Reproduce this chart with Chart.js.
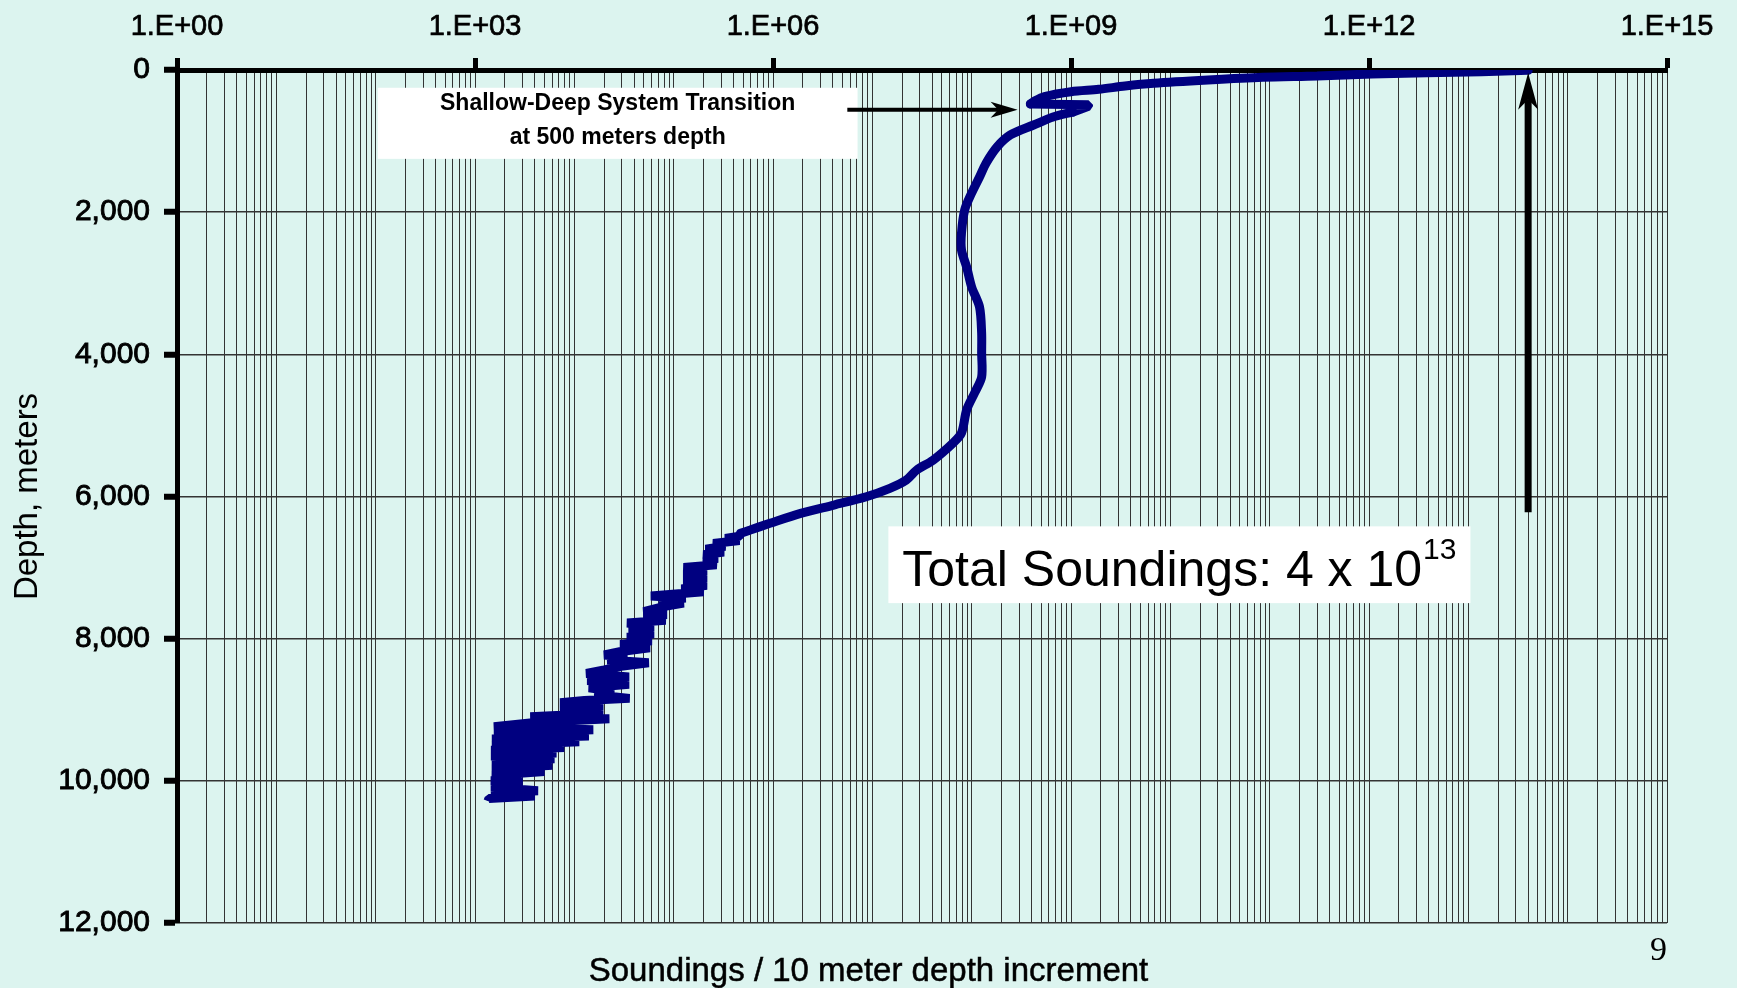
<!DOCTYPE html>
<html><head><meta charset="utf-8">
<script src="https://cdn.jsdelivr.net/npm/chart.js@4.4.1/dist/chart.umd.min.js"></script>
<style>html,body{margin:0;padding:0;background:#dcf4ef;overflow:hidden}canvas{display:block}</style>
</head><body>
<canvas id="c" width="1737" height="988"></canvas>
<script>
// ---- data ----
const depthM = [
  5, 24, 56, 84, 103, 141, 187, 225, 272, 305, 375, 445, 478, 490, 510, 591, 661, 774, 914,
  1083, 1308, 1505, 1730, 1970, 2293, 2532, 2771, 3053, 3334, 3700, 3981, 4319, 4544, 4783,
  5107, 5247, 5487, 5627, 5768, 5885, 6003, 6120, 6237, 6377, 6471, 6518,
  6560, 6590, 6620, 6660, 6700, 6740, 6780, 6820, 6870, 6920, 6960,
  7000, 7050, 7100, 7150, 7200, 7250, 7300, 7340,
  7400, 7430, 7470, 7500, 7550, 7620, 7660, 7700, 7740,
  7780, 7830, 7880, 7930, 7980, 8030, 8080, 8130, 8180, 8230, 8260, 8300, 8340, 8390,
  8440, 8490, 8540, 8590, 8640, 8690, 8740, 8790, 8840, 8870,
  8900, 8950, 9000, 9050, 9100, 9125, 9180, 9240, 9280, 9330, 9370,
  9410, 9450, 9500, 9530, 9570, 9610, 9650, 9690, 9740, 9780, 9830, 9870, 9920,
  9960, 10000, 10050, 10090, 10140, 10180, 10215, 10250, 10285
];
const soundings = [
  4.0e13, 1.35e13, 1.07e12, 3.0e11, 8.5e10, 2.4e10, 6.8e9, 3.5e9, 1.9e9, 1.0e9, 5.4e8, 4.2e8, 3.9e8, 1.5e9, 1.5e9, 1.05e9, 6.6e8, 4.2e8, 2.45e8,
  1.8e8, 1.4e8, 1.2e8, 1.0e8, 8.5e7, 7.9e7, 7.9e7, 8.9e7, 1.0e8, 1.2e8, 1.26e8, 1.26e8, 1.26e8, 1.07e8, 8.9e7,
  7.9e7, 6.5e7, 4.1e7, 2.8e7, 2.2e7, 1.5e7, 8.7e6, 4.1e6, 1.9e6, 9.3e5, 5.9e5, 4.7e5,
  4.6e5, 3.3e5, 4.6e5, 2.5e5, 3.3e5, 2.1e5, 3.2e5, 2.0e5, 2.75e5, 2.0e5, 2.7e5,
  1.26e5, 2.15e5, 1.26e5, 2.15e5, 1.26e5, 2.15e5, 1.2e5, 2.0e5,
  5.9e4, 1.32e5, 7.1e4, 1.26e5, 7.9e4, 5.0e4, 8.5e4, 5.0e4, 8.3e4,
  3.4e4, 6.3e4, 3.55e4, 6.3e4, 3.4e4, 6.0e4, 2.9e4, 5.75e4, 2.95e4, 2.0e4, 3.4e4, 2.15e4, 5.6e4, 2.95e4,
  2.0e4, 1.32e4, 3.55e4, 1.35e4, 3.55e4, 1.4e4, 2.5e4, 1.6e4, 3.6e4, 1.26e4,
  7.2e3, 1.95e4, 7.2e3, 1.95e4, 3.6e3, 2.25e4, 4.0e3, 1.55e3, 1.55e4, 1.55e3, 1.4e4,
  1.48e3, 1.12e4, 1.48e3, 7.9e3, 1.45e3, 6.6e3, 1.45e3, 6.3e3, 1.48e3, 6.0e3, 1.48e3, 5.0e3, 1.48e3,
  3.0e3, 1.45e3, 3.0e3, 1.45e3, 4.3e3, 1.45e3, 4.0e3, 1.38e3, 1.35e3
];
// index ranges of the profile: smooth shallow part, sharp transition kink, smooth deep part, noisy trench part
const segments = [
  {from: 0, to: 12, tension: 0.3, cap: 'round'},
  {from: 12, to: 15, tension: 0, cap: 'round'},
  {from: 15, to: 45, tension: 0.3, cap: 'round'},
  {from: 45, to: depthM.length - 1, tension: 0, cap: 'butt'}
];
const xTickValues = [1, 1e3, 1e6, 1e9, 1e12, 1e15];
const xTickLabels = ['1.E+00', '1.E+03', '1.E+06', '1.E+09', '1.E+12', '1.E+15'];
const yTickValues = [0, 2000, 4000, 6000, 8000, 10000, 12000];
const yTickLabels = ['0', '2,000', '4,000', '6,000', '8,000', '10,000', '12,000'];
const gridMantissas = [1, 2, 3, 4, 5, 6, 7, 8, 9];
const totalSoundings = 4e13;
const transitionDepth = 560;

const FONT = "'Liberation Sans', Arial, Helvetica, sans-serif";
const isLabeled = v => xTickValues.some(t => Math.abs(Math.log10(t) - Math.log10(v)) < 1e-6);

function arrow(ctx, x1, y1, x2, y2, w, headLen, headHalf) {
  const a = Math.atan2(y2 - y1, x2 - x1), ux = Math.cos(a), uy = Math.sin(a), nx = -uy, ny = ux;
  const notch = headLen * 0.72;
  ctx.strokeStyle = '#000'; ctx.fillStyle = '#000'; ctx.lineWidth = w; ctx.lineCap = 'butt';
  ctx.beginPath(); ctx.moveTo(x1, y1); ctx.lineTo(x2 - ux * notch, y2 - uy * notch); ctx.stroke();
  ctx.beginPath();
  ctx.moveTo(x2, y2);
  ctx.lineTo(x2 - ux * headLen + nx * headHalf, y2 - uy * headLen + ny * headHalf);
  ctx.lineTo(x2 - ux * notch, y2 - uy * notch);
  ctx.lineTo(x2 - ux * headLen - nx * headHalf, y2 - uy * headLen - ny * headHalf);
  ctx.closePath(); ctx.fill();
}

const annotations = {
  id: 'annotations',
  afterDatasetsDraw(chart) {
    const {ctx, chartArea} = chart;
    const xs = chart.scales.x, ys = chart.scales.y;
    const X = v => xs.getPixelForValue(v), Y = v => ys.getPixelForValue(v);
    ctx.save();
    // transition box
    const b1l = X(1.05e2), b1r = X(7.1e6), b1t = Y(250), b1b = Y(1250);
    ctx.fillStyle = '#fff'; ctx.fillRect(b1l, b1t, b1r - b1l, b1b - b1t);
    ctx.fillStyle = '#000'; ctx.font = 'bold 23px ' + FONT; ctx.textAlign = 'center'; ctx.textBaseline = 'middle';
    const c1 = (b1l + b1r) / 2, m1 = (b1t + b1b) / 2;
    ctx.fillText('Shallow-Deep System Transition', c1, m1 - 20);
    ctx.fillText('at 500 meters depth', c1, m1 + 14);
    // arrow to transition
    arrow(ctx, X(5.6e6), Y(transitionDepth), X(2.9e8), Y(transitionDepth), 4, 27, 8);
    // vertical arrow at total soundings
    arrow(ctx, X(totalSoundings), Y(6220), X(totalSoundings), Y(40), 7, 37, 10);
    // total box
    const b2l = X(1.45e7), b2r = X(1.05e13), b2t = Y(6420), b2b = Y(7500);
    ctx.fillStyle = '#fff'; ctx.fillRect(b2l, b2t, b2r - b2l, b2b - b2t);
    ctx.fillStyle = '#000'; ctx.textAlign = 'left'; ctx.textBaseline = 'alphabetic';
    const main = 'Total Soundings: 4 x 10', sup = '13';
    ctx.font = '50px ' + FONT; const wMain = ctx.measureText(main).width;
    ctx.font = '30px ' + FONT; const wSup = ctx.measureText(sup).width;
    const tx = (b2l + b2r) / 2 - (wMain + wSup + 1) / 2, base = b2t + 60;
    ctx.font = '50px ' + FONT; ctx.fillText(main, tx, base);
    ctx.font = '30px ' + FONT; ctx.fillText(sup, tx + wMain + 1, base - 27);
    // x-axis title (bottom, centred on page)
    ctx.font = '33px ' + FONT; ctx.textAlign = 'center';
    ctx.strokeStyle = '#000'; ctx.lineWidth = 0.5;
    ctx.fillText('Soundings / 10 meter depth increment', chart.width / 2, chartArea.bottom + 58);
    ctx.strokeText('Soundings / 10 meter depth increment', chart.width / 2, chartArea.bottom + 58);
    // page number
    ctx.font = "34px 'Liberation Serif', 'Times New Roman', serif"; ctx.textAlign = 'right';
    ctx.fillText('9', chartArea.right, chartArea.bottom + 37);
    ctx.restore();
  }
};

const points = soundings.map((s, i) => ({x: s, y: depthM[i]}));

new Chart(document.getElementById('c'), {
  type: 'scatter',
  data: {
    datasets: segments.map(seg => ({
      data: points.slice(seg.from, seg.to + 1),
      showLine: true,
      borderColor: '#000080',
      backgroundColor: '#000080',
      borderWidth: 9,
      borderJoinStyle: 'bevel',
      borderCapStyle: seg.cap,
      pointRadius: 0,
      tension: seg.tension,
      clip: {left: 6, top: 0, right: 6, bottom: 6}
    }))
  },
  options: {
    responsive: false,
    animation: false,
    devicePixelRatio: 1,
    layout: {padding: {left: 0, right: 70, top: 0, bottom: 65}},
    plugins: {legend: {display: false}, tooltip: {enabled: false}, title: {display: false}},
    scales: {
      x: {
        type: 'logarithmic', position: 'top', min: 1, max: 1e15,
        afterBuildTicks: s => {
          const t = [];
          for (let e = 0; e < 15; e++) for (const m of gridMantissas) t.push({value: m * Math.pow(10, e)});
          t.push({value: 1e15});
          s.ticks = t;
        },
        afterFit: s => { s.height = 70; },
        ticks: {
          autoSkip: false, maxRotation: 0, minRotation: 0, padding: 14,
          color: '#000', font: {family: FONT, size: 29},
          textStrokeColor: '#000', textStrokeWidth: 0.7,
          callback: v => { const i = xTickValues.findIndex(t => Math.abs(Math.log10(t) - Math.log10(v)) < 1e-6); return i >= 0 ? xTickLabels[i] : ''; }
        },
        grid: {
          color: '#333', lineWidth: 1, tickLength: 12, tickWidth: 5,
          tickColor: c => (c.tick && isLabeled(c.tick.value)) ? '#000' : 'rgba(0,0,0,0)'
        },
        border: {display: true, width: 5, color: '#000'}
      },
      y: {
        type: 'linear', position: 'left', reverse: true, min: 0, max: 12000,
        afterBuildTicks: s => { s.ticks = yTickValues.map(v => ({value: v})); },
        afterFit: s => { s.width = 177; },
        ticks: {
          padding: 14, color: '#000', font: {family: FONT, size: 30},
          textStrokeColor: '#000', textStrokeWidth: 0.9,
          callback: v => yTickLabels[yTickValues.indexOf(v)]
        },
        grid: {color: '#333', lineWidth: 1.5, tickLength: 13, tickWidth: 6, tickColor: '#000'},
        border: {display: true, width: 5, color: '#000'},
        title: {display: true, text: 'Depth, meters', color: '#000', font: {family: FONT, size: 33}, padding: {top: 8, bottom: 0}}
      }
    }
  },
  plugins: [annotations]
});
</script>
</body></html>
